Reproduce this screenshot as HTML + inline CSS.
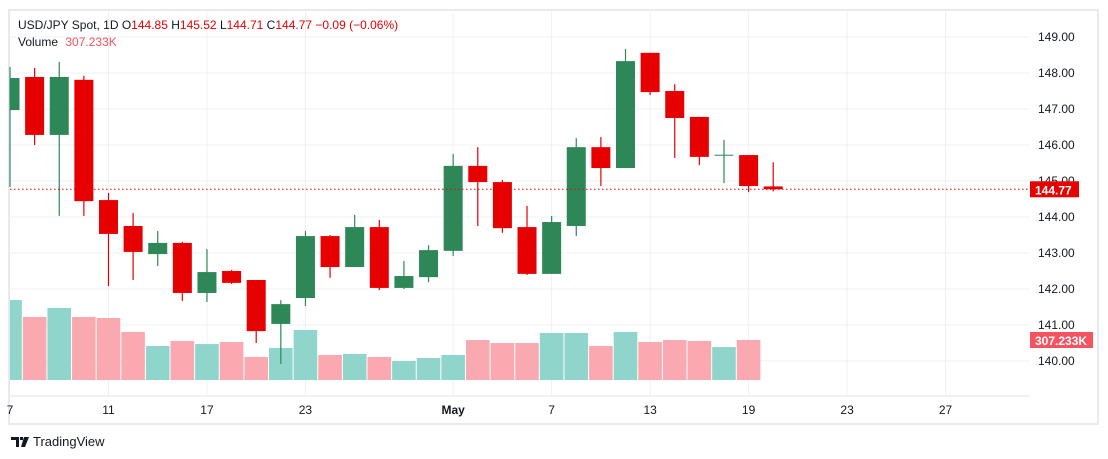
<!DOCTYPE html>
<html><head><meta charset="utf-8"><style>
html,body{margin:0;padding:0;background:#fff;}
svg{display:block;font-family:"Liberation Sans",sans-serif;}
</style></head><body>
<svg id="chart" width="1108" height="459" viewBox="0 0 1108 459">
<rect x="9" y="10" width="1089" height="414" fill="none" stroke="#e9e9ef" stroke-width="2"/>
<g id="grid"></g>
<g id="vol"></g>
<g id="candles"></g>
<line x1="10" x2="1030" y1="396" y2="396" stroke="#e0e3eb"/>
<g id="axes"></g>
<text x="18" y="29" font-size="12" fill="#131722">USD/JPY Spot, 1D <tspan fill="#131722">O</tspan><tspan fill="#e60000">144.85</tspan> <tspan fill="#131722">H</tspan><tspan fill="#e60000">145.52</tspan> <tspan fill="#131722">L</tspan><tspan fill="#e60000">144.71</tspan> <tspan fill="#131722">C</tspan><tspan fill="#e60000">144.77</tspan> <tspan fill="#e60000">−0.09 (−0.06%)</tspan></text>
<text x="18" y="46" font-size="12" fill="#131722">Volume <tspan fill="#f7525f" dx="4">307.233K</tspan></text>
<g>
<path d="M11 437h8v10h-3v-7h-5zM20 437h3v3h-3zM24 437h5l-4 10h-4z" fill="#131722"/>
<text x="33" y="446" font-size="13" fill="#131722">TradingView</text>
</g>
</svg>
<script>
const opens  =[146.97,147.89,146.28,147.81,144.47,143.75,142.97,143.28,141.89,142.50,142.25,141.03,141.75,143.47,142.61,143.72,142.03,142.33,143.06,145.42,144.97,143.72,142.42,143.75,145.94,145.36,148.56,147.50,146.78,145.72,145.72,144.85];
const highs  =[148.17,148.14,148.31,147.92,144.67,144.11,143.61,143.31,143.11,142.53,142.25,141.69,143.61,143.50,144.06,143.92,142.78,143.22,145.75,145.94,145.03,144.31,144.03,146.19,146.22,148.67,148.56,147.69,146.78,146.14,145.72,145.52];
const lows   =[144.83,146.00,144.03,144.03,142.08,142.25,142.64,141.67,141.64,142.14,140.50,139.92,141.53,142.31,142.61,141.97,142.00,142.19,142.92,143.75,143.56,142.39,142.42,143.47,144.86,145.36,147.39,145.64,145.44,144.94,144.69,144.71];
const closes =[147.86,146.28,147.89,144.44,143.53,143.03,143.28,141.89,142.47,142.17,140.83,141.58,143.47,142.61,143.72,142.03,142.36,143.08,145.42,144.97,143.69,142.42,143.86,145.94,145.36,148.33,147.47,146.75,145.67,145.73,144.86,144.77];
const volumesK=[614,484,553,484,476,369,261,300,276,292,177,246,384,192,200,177,146,169,192,307,284,284,361,361,261,369,292,307,300,253,307.233];
const lastVolumeK=307.233;
const priceTicks=[149,148,147,146,145,144,143,142,141,140];
const timeLabels=["7","11","17","23","May","7","13","19","23","27"];
const timeLabelIdx=[0,4,8,12,18,22,26,30,34,38];

const NS="http://www.w3.org/2000/svg";
function mk(tag,attrs,parent){const e=document.createElementNS(NS,tag);for(const k in attrs)e.setAttribute(k,attrs[k]);parent.appendChild(e);return e;}
const X0=10,STEP=24.62;
const xScale=i=>X0+i*STEP;
const yScale=p=>37+(149-p)*36;
const VBASE=380,VPX=7.68;
const vScale=v=>VBASE-v/VPX;
const G="#2d8757",R="#e60000";
const grid=document.getElementById('grid'),axes=document.getElementById('axes');
priceTicks.forEach(p=>{
  const y=yScale(p);
  const l=mk('line',{x1:10,x2:1030,y1:y,y2:y,stroke:'#eef0f3'},grid);
  
  
  const t=mk('text',{x:1038,y:y+4,'font-size':12,fill:'#131722'},axes);
  t.textContent=p.toFixed(2);
  
  
});
timeLabels.forEach((s,k)=>{
  const x=xScale(timeLabelIdx[k]);
  if(k>0){const l=mk('line',{x1:x,x2:x,y1:10,y2:396,stroke:'#eef0f3'},grid);
  
  }
  const t=mk('text',{x:x,y:414,'font-size':12,fill:'#131722','text-anchor':'middle','font-weight':s==='May'?'bold':'normal'},axes);
  t.textContent=s;
  
  
});
const vg=document.getElementById('vol'),cg=document.getElementById('candles');
volumesK.forEach((v,i)=>{
  const up=closes[i]>=opens[i],x=xScale(i);
  const vy=vScale(v);
  const left=Math.max(10,x-11.8);
  const vb=mk('rect',{x:left,y:vy,width:x+11.8-left,height:VBASE-vy,fill:up?'#8fd5cb':'#faa9b0'},vg);
  
  
});
opens.forEach((o,i)=>{
  const c=closes[i],up=c>=o,x=xScale(i);
  const col=up?G:R;
  const w=mk('line',{x1:x,x2:x,y1:yScale(highs[i]),y2:yScale(lows[i]),stroke:col,'stroke-width':1.2},cg);
  
  
  const top=yScale(Math.max(o,c)),bot=yScale(Math.min(o,c));
  const bx=Math.max(10,x-9.5);
  const b=mk('rect',{x:bx,y:top,width:x+9.5-bx,height:Math.max(1,bot-top),fill:col},cg);
  
  
});
const last=closes[closes.length-1],ly=yScale(last);
const pl=mk('line',{x1:10,x2:1030,y1:ly,y2:ly,stroke:R,'stroke-dasharray':'1.5 2.5'},axes);


const pb=mk('rect',{x:1030,y:ly-8,width:49,height:16,fill:R},axes);


const pt=mk('text',{x:1035,y:ly+5,'font-size':12,fill:'#fff','font-weight':'bold'},axes);
pt.textContent=last.toFixed(2);


const vy=vScale(lastVolumeK);
const vbx=mk('rect',{x:1030,y:vy-8,width:63,height:16,fill:'#f7525f'},axes);


const vt=mk('text',{x:1035,y:vy+5,'font-size':12,fill:'#fff','font-weight':'bold'},axes);
vt.textContent=lastVolumeK.toFixed(3)+'K';


</script>
</body></html>
